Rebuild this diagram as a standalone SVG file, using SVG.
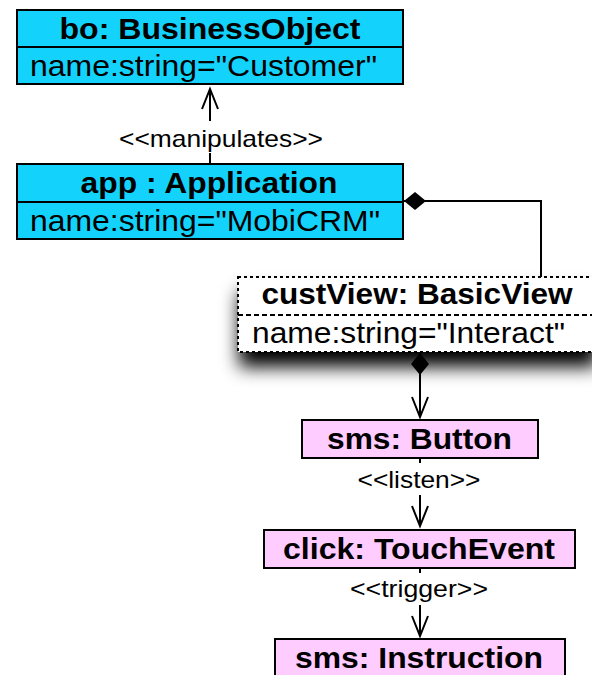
<svg xmlns="http://www.w3.org/2000/svg" width="592" height="675" viewBox="0 0 592 675">
<style>
.cy{fill:#13d3fc;stroke:#000;stroke-width:2}
.pk{fill:#ffccff;stroke:#000;stroke-width:2}
.div{stroke:#000;stroke-width:2}
.ttl{font-family:"Liberation Sans",Arial,sans-serif;font-weight:bold;font-size:30px;fill:#000}
.row{font-family:"Liberation Sans",Arial,sans-serif;font-size:30px;fill:#000}
.lbl{font-family:"Liberation Sans",Arial,sans-serif;font-size:24px;fill:#000}
.ln{fill:none;stroke:#000;stroke-width:2}
.dash{fill:none;stroke:#000;stroke-width:2;stroke-dasharray:3 3}
</style>
<defs>
<marker id="diamond" markerUnits="userSpaceOnUse" markerWidth="24" markerHeight="20" viewBox="0 -10 24 20" refX="0" refY="0" orient="auto" overflow="visible">
<path d="M0,0 L11,-9 L22,0 L11,9 Z" fill="#000"/>
</marker>
<marker id="arrow" markerUnits="userSpaceOnUse" markerWidth="24" markerHeight="20" viewBox="-22 -10 24 20" refX="0" refY="0" orient="auto" overflow="visible">
<path d="M-20,-8 L0,0 L-20,8" fill="none" stroke="#000" stroke-width="2"/>
</marker>
<filter id="shadow" x="-10%" y="-30%" width="125%" height="240%">
<feDropShadow dx="1" dy="15" stdDeviation="9" flood-color="#000" flood-opacity="1"/>
</filter>
</defs>

<g id="connectors">
<path class="ln" d="M210,164 V153"/>
<path class="ln" d="M210,121 V89" marker-end="url(#arrow)"/>
<text class="lbl" x="221" y="147" text-anchor="middle" textLength="204" lengthAdjust="spacingAndGlyphs">&lt;&lt;manipulates&gt;&gt;</text>
<path class="ln" d="M404,201 H541 V277" marker-start="url(#diamond)"/>
<path class="ln" d="M420,353 V417" marker-start="url(#diamond)" marker-end="url(#arrow)"/>
<path class="ln" d="M420,459 V463"/>
<path class="ln" d="M420,495 V526" marker-end="url(#arrow)"/>
<text class="lbl" x="419" y="488" text-anchor="middle" textLength="123" lengthAdjust="spacingAndGlyphs">&lt;&lt;listen&gt;&gt;</text>
<path class="ln" d="M420,569 V573"/>
<path class="ln" d="M420,605 V636" marker-end="url(#arrow)"/>
<text class="lbl" x="419" y="597" text-anchor="middle" textLength="138" lengthAdjust="spacingAndGlyphs">&lt;&lt;trigger&gt;&gt;</text>
</g>

<g id="bo">
<rect class="cy" x="17" y="10" width="386" height="74"/>
<line class="div" x1="17" y1="47" x2="403" y2="47"/>
<text class="ttl" x="210" y="39" text-anchor="middle" textLength="301" lengthAdjust="spacingAndGlyphs">bo: BusinessObject</text>
<text class="row" x="30" y="76" textLength="347" lengthAdjust="spacingAndGlyphs">name:string="Customer"</text>
</g>

<g id="app">
<rect class="cy" x="17" y="164" width="386" height="75"/>
<line class="div" x1="17" y1="202" x2="403" y2="202"/>
<text class="ttl" x="209" y="193" text-anchor="middle" textLength="257" lengthAdjust="spacingAndGlyphs">app : Application</text>
<text class="row" x="30" y="231" textLength="350" lengthAdjust="spacingAndGlyphs">name:string="MobiCRM"</text>
</g>

<g id="custView">
<rect x="238" y="277" width="358" height="75" fill="#fff" filter="url(#shadow)"/>
<rect class="dash" x="238" y="277" width="358" height="75"/>
<line class="dash" x1="238" y1="315" x2="596" y2="315" style="stroke-dasharray:5 3"/>
<text class="ttl" x="417" y="304" text-anchor="middle" textLength="311" lengthAdjust="spacingAndGlyphs">custView: BasicView</text>
<text class="row" x="252" y="343" textLength="313" lengthAdjust="spacingAndGlyphs">name:string="Interact"</text>
</g>

<g id="button">
<rect class="pk" x="302" y="420" width="236" height="38"/>
<text class="ttl" x="419.5" y="449" text-anchor="middle" textLength="185" lengthAdjust="spacingAndGlyphs">sms: Button</text>
</g>

<g id="touchEvent">
<rect class="pk" x="264" y="530" width="311" height="38"/>
<text class="ttl" x="419" y="559" text-anchor="middle" textLength="272" lengthAdjust="spacingAndGlyphs">click: TouchEvent</text>
</g>

<g id="instruction">
<rect class="pk" x="275" y="639" width="290" height="50"/>
<text class="ttl" x="419" y="668" text-anchor="middle" textLength="248" lengthAdjust="spacingAndGlyphs">sms: Instruction</text>
</g>
</svg>
